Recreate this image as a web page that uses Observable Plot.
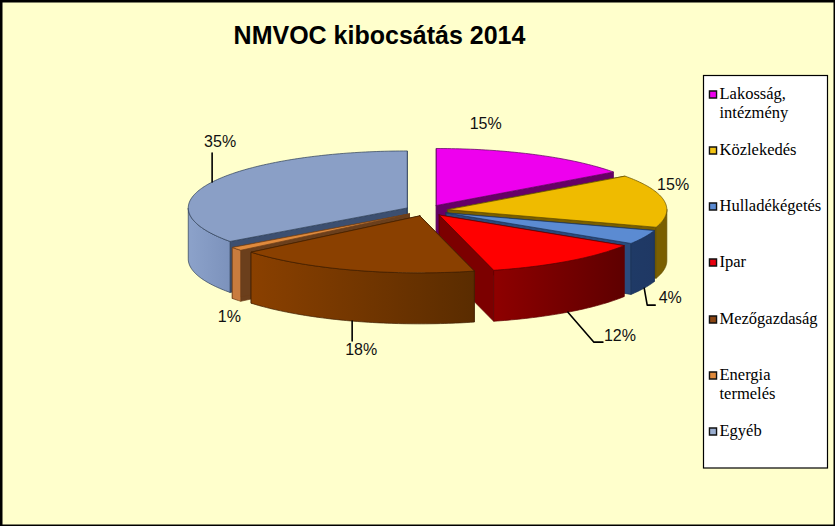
<!DOCTYPE html>
<html>
<head>
<meta charset="utf-8">
<script src="https://cdn.jsdelivr.net/npm/d3@7"></script>
<script src="https://cdn.jsdelivr.net/npm/@observablehq/plot@0.6"></script>
<style>html,body{margin:0;padding:0;background:#FFFFCC;overflow:hidden}svg{display:block}</style>
</head>
<body>
<div id="chart"></div>
<script>
const title = "NMVOC kibocsátás 2014";
const categories = ["Lakosság, intézmény","Közlekedés","Hulladékégetés","Ipar","Mezőgazdaság","Energia termelés","Egyéb"];
const legendLines = [["Lakosság,","intézmény"],["Közlekedés"],["Hulladékégetés"],["Ipar"],["Mezőgazdaság"],["Energia","termelés"],["Egyéb"]];
const values = [15,15,4,12,18,1,35];

// styles, one per slice
const topColors  = ["#EE00EE","#EFBB00","#5B8BD2","#FF0000","#8A4000","#E08A3C","#8A9FC6"];
const edgeColors = ["#5a005a","#5f4a00","#1c3357","#5f0000","#3f1e00","#6b3d18","#2d3d58"];
const faceColors = ["#660066","#7A5F00","#2A4A7C","#7C0000","#6A3400","#6B3F1C","#3C4F70"];
const wallLeft   = ["#660066","#7A5F00","#1F3A66","#8E0000","#8A4000","#C97C3E","#8CA2CA"];
const wallRight  = ["#660066","#7A5F00","#1F3864","#5E0000","#5A2C00","#C97C3E","#7C92BC"];
const swatchColors = ["#EE00EE","#F2C314","#5B8BD2","#E8000F","#8A4513","#E08A3C","#9AAED0"];
const paintOrder = [0,6,1,2,3,5,4];

// pie geometry
const cx = 426, cy = 210, rx = 219, ry = 57, depth = 51, explode = 21.6;
// label placement relative to each slice's rim anchor
const labelOffset = [[-50,-31],[9,-15.5],[26,10],[52,24],[9,28.5],[-7,16.5],[8,-40]];
const leaderPath = [null,null,[[3,17],[11,17]],[[26,30],[35,30]],[[0,20]],null,[[0,-29]]];

const total = d3.sum(values);
const rad = d => d * Math.PI / 180;
let acc = 0;
const slices = values.map((v, i) => {
  const a0 = acc / total * 360; acc += v; const a1 = acc / total * 360;
  const mid = rad((a0 + a1) / 2);
  return {i, a0, a1, ax: cx + explode * Math.sin(mid), ay: cy - explode * (ry / rx) * Math.cos(mid), mid};
});
const rim = (s, deg, drop = 0) => [s.ax + rx * Math.sin(rad(deg)), s.ay - ry * Math.cos(rad(deg)) + drop];
const steps = (a, b) => { const n = Math.max(1, Math.ceil(b - a)); return d3.range(n + 1).map(k => a + (b - a) * k / n); };

const rows = [];
let pid = 0;
const poly = (pts, fill, stroke) => { const z = pid++; pts.forEach(([x, y]) => rows.push({x, y, z, fill, stroke})); };

for (const i of paintOrder) {
  const s = slices[i];
  // cut faces
  for (const a of [s.a0, s.a1]) {
    const p = rim(s, a), q = rim(s, a, depth);
    poly([[s.ax, s.ay], p, q, [s.ax, s.ay + depth], [s.ax, s.ay]], faceColors[i], edgeColors[i]);
  }
  // outer wall, front half only, shaded by a horizontal gradient
  const lo = Math.max(s.a0, 90), hi = Math.min(s.a1, 270);
  if (hi > lo) {
    const as = steps(lo, hi);
    const wall = [...as.map(a => rim(s, a)), ...as.slice().reverse().map(a => rim(s, a, depth))];
    wall.push(wall[0]);
    poly(wall, `url(#wall${i})`, edgeColors[i]);
  }
  // top surface
  const top = [[s.ax, s.ay], ...steps(s.a0, s.a1).map(a => rim(s, a)), [s.ax, s.ay]];
  poly(top, topColors[i], edgeColors[i]);
}

// gradient definitions for the walls
const wallDefs = () => {
  const defs = d3.create("svg:defs");
  values.forEach((v, i) => {
    const g = defs.append("linearGradient").attr("id", `wall${i}`).attr("x1", 0).attr("x2", 1).attr("y1", 0).attr("y2", 0);
    g.append("stop").attr("offset", "0%").attr("stop-color", wallLeft[i]);
    g.append("stop").attr("offset", "100%").attr("stop-color", wallRight[i]);
  });
  return defs.node();
};

// rim anchors for labels and leader lines
const anchors = slices.map(s => {
  const front = Math.cos(s.mid) < 0;
  const [x, y] = rim(s, (s.a0 + s.a1) / 2, front ? depth : 0);
  return {x, y};
});
const labels = slices.map((s, i) => ({
  x: anchors[i].x + labelOffset[i][0],
  y: anchors[i].y + labelOffset[i][1],
  text: values[i] + "%"
}));
const leaders = [];
leaderPath.forEach((path, i) => {
  if (!path) return;
  [[0, 0], ...path].forEach(([dx, dy]) => leaders.push({x: anchors[i].x + dx, y: anchors[i].y + dy, z: i}));
});

// legend layout
const legendBox = {x1: 703.5, x2: 827.5, y1: 75.5, y2: 468};
const legendY = [[94,113],[150],[206],[262],[319],[375,394],[431]];
const legendText = legendLines.flatMap((ls, i) => ls.map((t, j) => ({t, y: legendY[i][j] - 0.7})));
const legendSwatch = categories.map((c, i) => ({c, y: legendY[i][0], color: swatchColors[i]}));

const chart = Plot.plot({
  width: 835, height: 526,
  margin: 0,
  x: {domain: [0, 835], range: [0, 835], axis: null},
  y: {domain: [0, 526], range: [0, 526], axis: null},
  style: {background: "#FFFFCC"},
  marks: [
    wallDefs,
    Plot.frame({stroke: "#000", strokeWidth: 4}),
    Plot.line(rows, {x: "x", y: "y", z: "z", fill: "fill", stroke: "stroke", strokeWidth: 0.7, curve: "linear"}),
    Plot.line(leaders, {x: "x", y: "y", z: "z", stroke: "#000", strokeWidth: 1.6, curve: "linear"}),
    Plot.text(labels, {x: "x", y: "y", text: "text", fontFamily: "Liberation Sans", fontSize: 16, fill: "#111"}),
    Plot.text([title], {x: () => 379, y: () => 35, text: d => d, fontFamily: "Liberation Sans", fontWeight: "bold", fontSize: 25, fill: "#000"}),
    Plot.rect([legendBox], {x1: "x1", x2: "x2", y1: "y1", y2: "y2", fill: "#fff", stroke: "#000", strokeWidth: 1.2}),
    Plot.dot(legendSwatch, {x: () => 712.5, y: "y", symbol: "square", r: 4, fill: "color", stroke: "#111", strokeWidth: 1.4}),
    Plot.text(legendText, {x: () => 719, y: "y", text: "t", textAnchor: "start", fontFamily: "Liberation Serif", fontSize: 16.5, fill: "#000"})
  ]
});
document.getElementById("chart").append(chart);
</script>
</body>
</html>
